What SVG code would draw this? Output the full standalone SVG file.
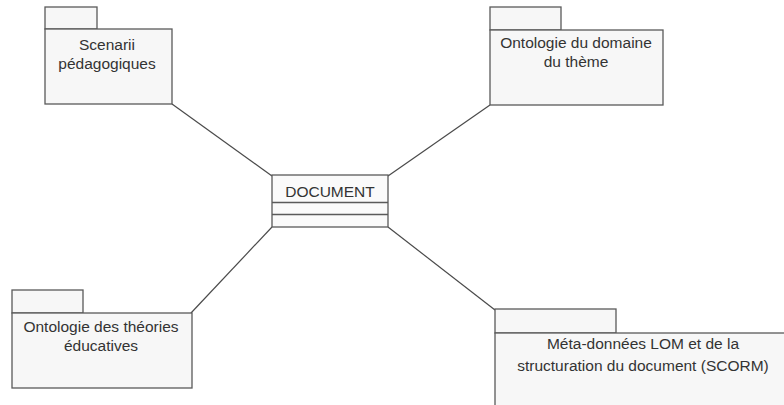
<svg xmlns="http://www.w3.org/2000/svg" width="784" height="405" viewBox="0 0 784 405">
  <style>
    .pkg { fill: #f7f7f7; stroke: #5a5a5a; stroke-width: 1.3; }
    .cls { fill: #fafafa; stroke: #5a5a5a; stroke-width: 1.3; }
    .sep { stroke: #5a5a5a; stroke-width: 1.3; }
    .link { stroke: #4a4a4a; stroke-width: 1.2; fill: none; }
    text { font-family: "Liberation Sans", Arial, sans-serif; font-size: 15.5px; fill: #333; text-anchor: middle; }
  </style>
  <rect width="784" height="405" fill="#ffffff"/>

  <!-- associations between the class and the packages -->
  <g id="connectors">
    <line class="link" x1="172" y1="104" x2="272" y2="176"/>
    <line class="link" x1="490" y1="105" x2="388" y2="176"/>
    <line class="link" x1="272" y1="227" x2="191" y2="313"/>
    <line class="link" x1="388" y1="227" x2="495" y2="310"/>
  </g>

  <g id="scenarii">
    <rect class="pkg" x="45" y="7" width="52" height="22"/>
    <rect class="pkg" x="45" y="29" width="127" height="75"/>
    <text x="107" y="50">Scenarii</text>
    <text x="107" y="69">pédagogiques</text>
  </g>

  <g id="ontologie-domaine">
    <rect class="pkg" x="490" y="7" width="71" height="23"/>
    <rect class="pkg" x="490" y="30" width="173" height="75"/>
    <text x="576" y="48">Ontologie du domaine</text>
    <text x="576" y="67">du thème</text>
  </g>

  <g id="document">
    <rect class="cls" x="272" y="175" width="116" height="52"/>
    <line class="sep" x1="272" y1="202.5" x2="388" y2="202.5"/>
    <line class="sep" x1="272" y1="214.5" x2="388" y2="214.5"/>
    <text x="330" y="197">DOCUMENT</text>
  </g>

  <g id="ontologie-theories">
    <rect class="pkg" x="12" y="290" width="71" height="23"/>
    <rect class="pkg" x="12" y="313" width="180" height="75"/>
    <text x="101" y="332">Ontologie des théories</text>
    <text x="101" y="351">éducatives</text>
  </g>

  <g id="meta-donnees">
    <rect class="pkg" x="495" y="309" width="121" height="24"/>
    <rect class="pkg" x="495" y="333" width="300" height="80"/>
    <text x="643" y="349">Méta-données LOM et de la</text>
    <text x="643" y="371">structuration du document (SCORM)</text>
  </g>
</svg>
